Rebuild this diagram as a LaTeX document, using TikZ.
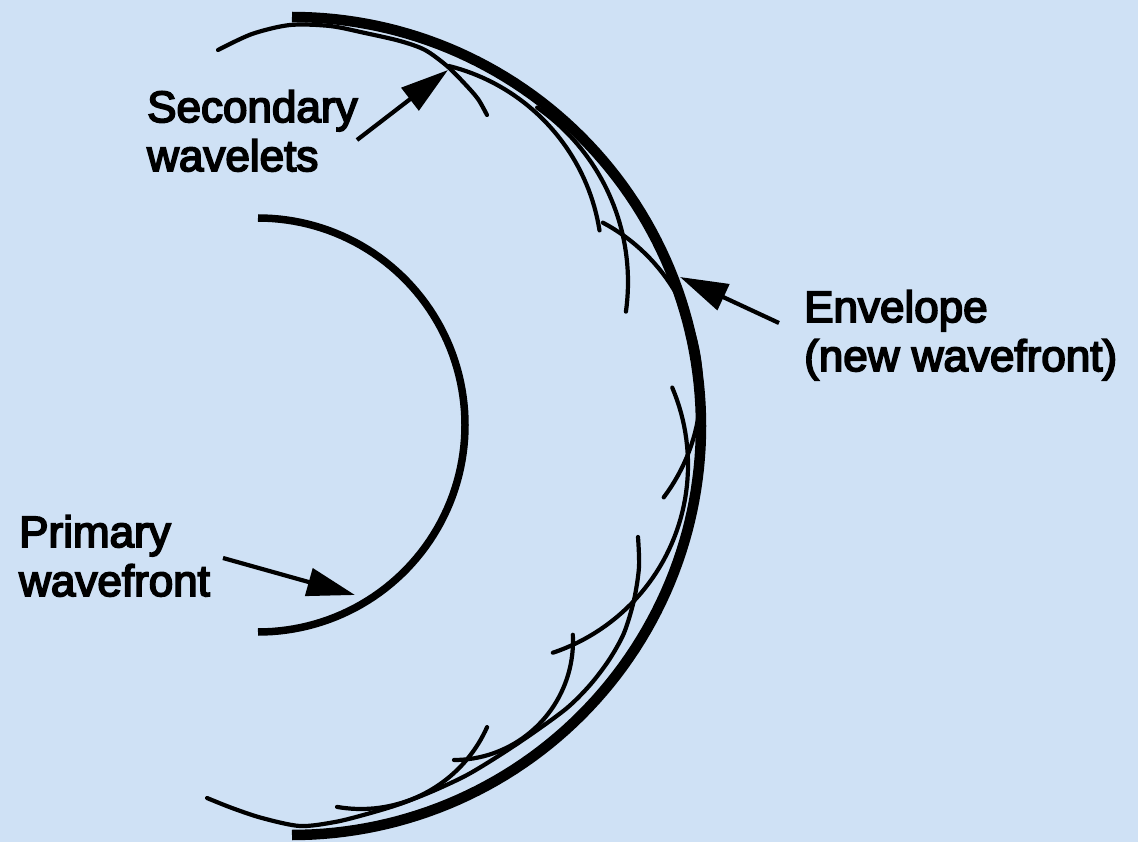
\documentclass[tikz,border=0pt]{standalone}
\usepackage{fontspec}
\setmainfont{Liberation Sans}
\newfontfamily\labelfont{Liberation Sans}[FakeBold=4]
\usetikzlibrary{arrows.meta}
\definecolor{bgblue}{RGB}{207,225,245}
\begin{document}
\begin{tikzpicture}[x=1pt,y=-1pt,
  front/.style={line width=10.5pt},
  primfront/.style={line width=7.5pt},
  wave/.style={line width=4.2pt, line cap=round, line join=round},
  pointer/.style={line width=4.2pt, -{Triangle[length=48pt,width=28pt]}},
  lbl/.style={font=\labelfont\fontsize{44}{49}\selectfont, align=left, inner sep=0pt, anchor=north west}]
\fill[bgblue] (0,0) rectangle (1138,842);
\useasboundingbox (0,0) rectangle (1138,842);

% primary wavefront
\draw[primfront] plot[domain=-90:90, samples=91] ({258+207*cos(\x)},{425+207*sin(\x)});
% envelope (new wavefront)
\draw[front] plot[domain=-90:90, samples=121] ({292+409*cos(\x)},{426+409*sin(\x)});

% secondary wavelets
\draw[wave] plot[smooth] coordinates {(218,50) (252,34) (290,25) (330,26) (365,33) (400,41) (425,50) (447,66) (465,84) (478,99) (487,115)};
\draw[wave] plot[domain=-76:-9, samples=40] ({400+202*cos(\x)},{262+202*sin(\x)});
\draw[wave] plot[domain=-55:8, samples=40] ({415+213*cos(\x)},{282+213*sin(\x)});
\draw[wave] plot[domain=-62:37, samples=50] ({516+185*cos(\x)},{386+185*sin(\x)});
\draw[wave] plot[domain=-23:71.5, samples=50] ({490+198*cos(\x)},{465+198*sin(\x)});
\draw[wave] plot[smooth] coordinates {(638,537) (639,567) (634,600) (624,633) (609,660) (590,685) (567,708) (533,733) (500,755) (467,775) (433,791) (400,804) (367,814) (335,822) (300,826) (262,818) (232,808) (207,798)};
\draw[wave] plot[domain=-3:90, samples=40] ({454+119*cos(\x)},{641+119*sin(\x)});
\draw[wave] plot[domain=24:100, samples=40] ({361+138*cos(\x)},{671+138*sin(\x)});

% labels
\node[lbl] (sec) at (147,90) {Secondary\\wavelets};
\node[lbl] (pri) at (19,515) {Primary\\wavefront};
\node[lbl] (env) at (804,290) {Envelope\\(new wavefront)};

\coordinate (secTail) at (357,140); \coordinate (secTip) at (448,70);
\coordinate (envTail) at (779,323); \coordinate (envTip) at (680,277);
\coordinate (priTail) at (223,558); \coordinate (priTip) at (355,595);
\draw[pointer] (secTail) -- (secTip);
\draw[pointer] (envTail) -- (envTip);
\draw[pointer] (priTail) -- (priTip);
\end{tikzpicture}
\end{document}
